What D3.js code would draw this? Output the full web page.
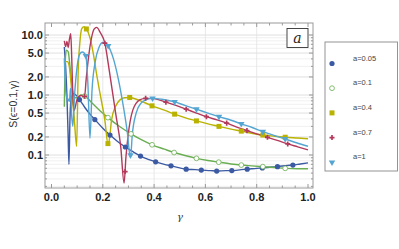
<!DOCTYPE html>
<html><head><meta charset="utf-8">
<script src="https://cdn.jsdelivr.net/npm/d3@7"></script>
<style>body{margin:0;background:#fff}svg{display:block}</style>
</head><body><svg id="c" width="399" height="249"></svg>
<script>
// ---- data ----
const seriesNames = ["a=0.05","a=0.1","a=0.4","a=0.7","a=1"];
const colors = ["#3b5aa3","#6aae52","#b9b200","#b3395b","#54a5d2"];
const xTicks = [0,0.2,0.4,0.6,0.8,1.0];
const xTickLabels = ["0.0","0.2","0.4","0.6","0.8","1.0"];
const yTicks = [0.1,0.2,0.5,1,2,5,10];
const yTickLabels = ["0.1","0.2","0.5","1.0","2.0","5.0","10.0"];

const lineA005 = [[0.05,6.3],[0.055,3],[0.06,1.0],[0.065,0.2],[0.068,0.07],[0.072,0.4],[0.077,0.9],[0.085,1.05],[0.095,1.0],[0.109,0.84],[0.13,0.62],[0.15,0.48],[0.169,0.39],[0.2,0.28],[0.228,0.215],[0.26,0.165],[0.288,0.136],[0.32,0.112],[0.347,0.096],[0.38,0.084],[0.406,0.077],[0.44,0.07],[0.466,0.066],[0.5,0.061],[0.525,0.058],[0.56,0.057],[0.584,0.056],[0.62,0.055],[0.644,0.054],[0.68,0.055],[0.703,0.055],[0.74,0.057],[0.763,0.058],[0.8,0.06],[0.822,0.061],[0.86,0.063],[0.881,0.064],[0.92,0.067],[0.941,0.068],[0.97,0.071],[1.0,0.074]];
const markA005 = [[0.109,0.84],[0.169,0.39],[0.228,0.215],[0.288,0.136],[0.347,0.096],[0.406,0.077],[0.466,0.066],[0.525,0.058],[0.584,0.056],[0.644,0.054],[0.703,0.055],[0.763,0.058],[0.822,0.061],[0.881,0.064],[0.941,0.068]];

const lineA01 = [[0.05,0.64],[0.054,4],[0.058,5.6],[0.065,5.3],[0.072,3.0],[0.08,1.4],[0.09,0.9],[0.1,0.9],[0.115,1.0],[0.13,0.96],[0.16,0.72],[0.19,0.54],[0.22,0.42],[0.26,0.31],[0.31,0.225],[0.35,0.18],[0.392,0.148],[0.44,0.125],[0.478,0.11],[0.52,0.098],[0.565,0.088],[0.61,0.081],[0.652,0.076],[0.7,0.071],[0.74,0.068],[0.78,0.066],[0.824,0.064],[0.87,0.062],[0.911,0.060],[0.96,0.059],[1.0,0.059]];
const markA01 = [[0.13,0.96],[0.22,0.42],[0.31,0.225],[0.392,0.148],[0.478,0.11],[0.565,0.088],[0.652,0.076],[0.74,0.068],[0.824,0.064],[0.911,0.060]];

const lineA04 = [[0.05,3.4],[0.055,3.6],[0.062,3.6],[0.068,3.2],[0.074,2.0],[0.08,1.0],[0.088,0.45],[0.098,0.14],[0.104,2.5],[0.11,7],[0.118,12.8],[0.127,13.8],[0.136,12.6],[0.15,9],[0.163,4.9],[0.176,2.2],[0.189,1.07],[0.208,0.38],[0.221,0.145],[0.228,0.22],[0.234,0.38],[0.25,0.65],[0.267,0.83],[0.285,0.9],[0.305,0.91],[0.34,0.82],[0.392,0.66],[0.44,0.56],[0.48,0.48],[0.52,0.42],[0.565,0.37],[0.61,0.33],[0.653,0.30],[0.7,0.27],[0.74,0.25],[0.78,0.23],[0.824,0.215],[0.87,0.205],[0.911,0.198],[0.96,0.192],[1.0,0.187]];
const markA04 = [[0.136,12.6],[0.22,0.155],[0.305,0.91],[0.392,0.66],[0.48,0.48],[0.565,0.37],[0.653,0.30],[0.74,0.25],[0.824,0.215],[0.911,0.198]];

const lineA07 = [[0.05,8.0],[0.055,6.4],[0.06,7.8],[0.065,6.2],[0.07,8.5],[0.075,10.5],[0.079,4],[0.083,1.0],[0.088,0.55],[0.1,0.85],[0.115,0.98],[0.129,0.95],[0.135,1.8],[0.145,4.5],[0.155,8.5],[0.166,12.5],[0.176,13.4],[0.19,11],[0.208,7.3],[0.225,2.6],[0.25,0.5],[0.27,0.137],[0.283,0.034],[0.29,0.09],[0.298,0.2],[0.317,0.56],[0.344,0.83],[0.367,0.88],[0.4,0.87],[0.446,0.76],[0.485,0.67],[0.525,0.58],[0.565,0.5],[0.604,0.435],[0.645,0.385],[0.683,0.34],[0.72,0.295],[0.762,0.255],[0.8,0.225],[0.842,0.197],[0.88,0.175],[0.921,0.153],[0.96,0.137],[1.0,0.122]];
const markA07 = [[0.129,0.95],[0.208,7.3],[0.287,0.053],[0.367,0.88],[0.446,0.76],[0.525,0.58],[0.604,0.435],[0.683,0.34],[0.762,0.255],[0.842,0.197],[0.921,0.153]];

const lineA1 = [[0.05,4.1],[0.054,1.5],[0.058,0.95],[0.065,0.85],[0.07,0.78],[0.074,1.3],[0.078,0.5],[0.083,0.3],[0.09,1.0],[0.1,3],[0.11,4.8],[0.12,5.2],[0.134,4.5],[0.142,1.5],[0.15,0.19],[0.158,1.2],[0.17,3.5],[0.185,6.2],[0.2,7.5],[0.21,7.4],[0.221,6.6],[0.24,4.2],[0.26,1.9],[0.28,0.65],[0.295,0.25],[0.308,0.09],[0.315,0.22],[0.33,0.5],[0.35,0.74],[0.37,0.84],[0.394,0.88],[0.43,0.85],[0.48,0.77],[0.52,0.67],[0.565,0.58],[0.61,0.5],[0.653,0.435],[0.7,0.38],[0.74,0.33],[0.78,0.29],[0.824,0.245],[0.87,0.21],[0.911,0.185],[0.955,0.16],[1.0,0.14]];
const markA1 = [[0.134,4.5],[0.221,6.6],[0.308,0.1],[0.394,0.88],[0.48,0.77],[0.565,0.58],[0.653,0.435],[0.74,0.33],[0.824,0.245],[0.911,0.185]];

const lines = [lineA005,lineA01,lineA04,lineA07,lineA1];
const marks = [markA005,markA01,markA04,markA07,markA1];

// ---- drawing ----
const svg = d3.select("#c");
const L=45,R=313,T=23,B=188;
const x = d3.scaleLinear().domain([0,1]).range([51.5,308]);
const y = d3.scaleLog().domain([0.0282,15.85]).range([B,T]);

// grid
const minorY=[];
[0.01,0.1,1,10].forEach(d=>{for(let k=1;k<10;k++){const v=d*k; if(v>=0.0282&&v<=15.85) minorY.push(v);}});
const grid = svg.append("g");
grid.selectAll("line.my").data(minorY).join("line")
  .attr("x1",L).attr("x2",R).attr("y1",d=>y(d)).attr("y2",d=>y(d))
  .attr("stroke","#ececec").attr("stroke-width",0.8);
grid.selectAll("line.gx").data(xTicks.filter(d=>d>0&&d<1)).join("line")
  .attr("x1",d=>x(d)).attr("x2",d=>x(d)).attr("y1",T).attr("y2",B)
  .attr("stroke","#e2e2e2").attr("stroke-width",0.8);
grid.selectAll("line.gy").data(yTicks).join("line")
  .attr("x1",L).attr("x2",R).attr("y1",d=>y(d)).attr("y2",d=>y(d))
  .attr("stroke","#e2e2e2").attr("stroke-width",0.8);

// clip
svg.append("clipPath").attr("id","clip").append("rect").attr("x",L).attr("y",T).attr("width",R-L).attr("height",B-T);
const plot = svg.append("g").attr("clip-path","url(#clip)");
const line = d3.line().x(d=>x(d[0])).y(d=>y(d[1])).curve(d3.curveMonotoneX);
lines.forEach((ln,i)=>{
  plot.append("path").datum(ln).attr("d",line).attr("fill","none")
    .attr("stroke",colors[i]).attr("stroke-width",1.4).attr("stroke-linejoin","round");
});

function drawMarker(g,i,cx,cy,scale){
  const s=scale||1;
  if(i===0){ g.append("circle").attr("cx",cx).attr("cy",cy).attr("r",2.6*s).attr("fill",colors[0]); }
  else if(i===1){ g.append("circle").attr("cx",cx).attr("cy",cy).attr("r",2.4*s).attr("fill","#fff").attr("stroke",colors[1]).attr("stroke-width",0.8); }
  else if(i===2){ g.append("rect").attr("x",cx-2.5*s).attr("y",cy-2.5*s).attr("width",5*s).attr("height",5*s).attr("fill",colors[2]); }
  else if(i===3){ g.append("path").attr("transform",`translate(${cx},${cy})`).attr("d",d3.symbol(d3.symbolCross,14*s*s)()).attr("fill",colors[3]); }
  else { g.append("path").attr("transform",`translate(${cx},${cy}) rotate(180)`).attr("d",d3.symbol(d3.symbolTriangle,18*s*s)()).attr("fill",colors[4]); }
}
marks.forEach((mk,i)=>{
  mk.forEach(d=>drawMarker(plot,i,x(d[0]),y(d[1])));
});

// frame and ticks
const fr = svg.append("g");
fr.append("rect").attr("x",L).attr("y",T).attr("width",R-L).attr("height",B-T)
  .attr("fill","none").attr("stroke","#9a9a9a").attr("stroke-width",1);
const xMinor = d3.range(0,1.0001,0.05);
xMinor.forEach(v=>{
  const major = xTicks.some(t=>Math.abs(t-v)<1e-6);
  const len = major?4:2.5;
  fr.append("line").attr("x1",x(v)).attr("x2",x(v)).attr("y1",B).attr("y2",B-len).attr("stroke","#9a9a9a");
  fr.append("line").attr("x1",x(v)).attr("x2",x(v)).attr("y1",T).attr("y2",T+len).attr("stroke","#9a9a9a");
});
minorY.forEach(v=>{
  const major = yTicks.some(t=>Math.abs(t-v)/t<1e-6);
  const len = major?4:2;
  fr.append("line").attr("x1",L).attr("x2",L+len).attr("y1",y(v)).attr("y2",y(v)).attr("stroke","#9a9a9a");
  fr.append("line").attr("x1",R).attr("x2",R-len).attr("y1",y(v)).attr("y2",y(v)).attr("stroke","#9a9a9a");
});
const font = "'Liberation Sans', Arial, sans-serif";
xTicks.forEach((v,i)=>{
  svg.append("text").attr("x",x(v)).attr("y",201).attr("text-anchor","middle")
    .attr("font-family",font).attr("font-weight","bold").attr("font-size",11).attr("fill","#222").text(xTickLabels[i]);
});
yTicks.forEach((v,i)=>{
  svg.append("text").attr("x",43).attr("y",y(v)+4).attr("text-anchor","end")
    .attr("font-family",font).attr("font-weight","bold").attr("font-size",11).attr("fill","#222").text(yTickLabels[i]);
});
svg.append("text").attr("x",180).attr("y",220).attr("text-anchor","middle")
  .attr("font-family","'DejaVu Serif', serif").attr("font-style","italic").attr("font-size",10).attr("fill","#333").text("γ");
svg.append("text").attr("transform","translate(17,104) rotate(-90)").attr("text-anchor","middle")
  .attr("font-family",font).attr("font-size",10.5).attr("fill","#333").text("S(ϵ=0.1,γ)");

// label box "a"
svg.append("rect").attr("x",287).attr("y",28.5).attr("width",21).attr("height",19)
  .attr("fill","#fff").attr("stroke","#333").attr("stroke-width",0.9);
svg.append("text").attr("x",297.5).attr("y",43).attr("text-anchor","middle")
  .attr("font-family","'DejaVu Serif', 'Liberation Serif', serif").attr("font-style","italic").attr("font-size",14).attr("fill","#222").text("a");

// legend
const lg = svg.append("g");
lg.append("rect").attr("x",325).attr("y",42).attr("width",72.5).attr("height",129)
  .attr("fill","#fff").attr("stroke","#888").attr("stroke-width",0.9);
seriesNames.forEach((n,i)=>{
  const my = 63.5 + i*24.7;
  drawMarker(lg,i,332,my,1);
  lg.append("text").attr("x",353).attr("y",my-3).attr("font-family",font).attr("font-size",7.5).attr("fill","#444").text(n);
});
</script></body></html>
